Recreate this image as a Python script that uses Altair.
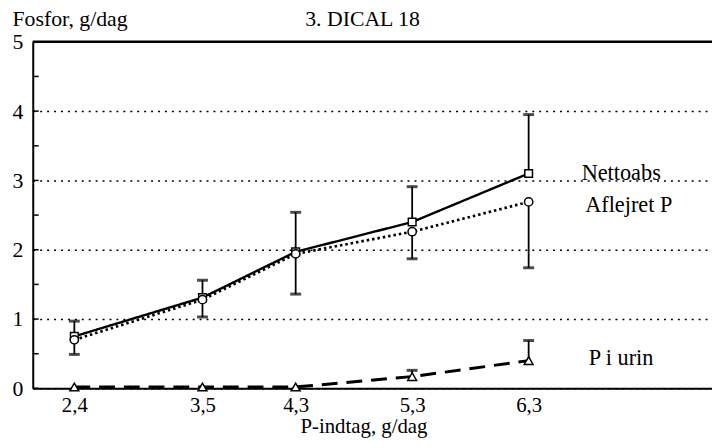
import altair as alt
import pandas as pd

# ---- data ----
x_vals = [2.4, 3.5, 4.3, 5.3, 6.3]
netto = [0.75, 1.31, 1.97, 2.40, 3.10]
aflejret = [0.70, 1.28, 1.94, 2.26, 2.69]
urin = [0.02, 0.02, 0.02, 0.17, 0.40]
netto_upper = [0.97, 1.56, 2.54, 2.91, 3.95]
aflejret_lower = [0.49, 1.03, 1.36, 1.87, 1.74]
urin_upper = [None, None, None, 0.26, 0.69]

series_names = ["Nettoabs", "Aflejret P", "P i urin"]
label_x = [6.755, 6.785, 6.815]
label_y = [3.11, 2.64, 0.43]

chart_title = "3. DICAL 18"
y_labels = [0, 1, 2, 3, 4, 5]
minor_ticks = [0, 0.5, 1, 1.5, 2, 2.5, 3, 3.5, 4, 4.5, 5]

FONT = "Liberation Serif, Times New Roman, serif"

# ---- tables ----
lines = pd.DataFrame(
    [{"series": s, "x": x, "y": v}
     for s, vals in zip(series_names, [netto, aflejret, urin])
     for x, v in zip(x_vals, vals)]
)

err_rows = []
for x, a, b in zip(x_vals, netto, netto_upper):
    err_rows.append({"x": x, "y": a, "y2": b})
for x, a, b in zip(x_vals, aflejret, aflejret_lower):
    err_rows.append({"x": x, "y": a, "y2": b})
for x, a, b in zip(x_vals, urin, urin_upper):
    if b is not None:
        err_rows.append({"x": x, "y": a, "y2": b})
errs = pd.DataFrame(err_rows)

labels = pd.DataFrame({"text": series_names, "x": label_x, "y": label_y})
ticks = pd.DataFrame({"y": minor_ticks})

xscale = alt.Scale(domain=[2.043, 7.874], nice=False, zero=False)
yscale = alt.Scale(domain=[0, 5], nice=False, zero=True)

xaxis = alt.Axis(
    values=x_vals, format=".1f", labelExpr="replace(datum.label, '.', ',')",
    grid=False, ticks=False, domainColor="black", domainWidth=2,
    labelFont=FONT, labelFontSize=21, labelColor="black", labelPadding=6,
    title="P-indtag, g/dag", titleFont=FONT, titleFontSize=21,
    titleFontWeight="normal", titleColor="black",
    titleX=334, titleY=45, titleAlign="center", titleBaseline="alphabetic",
)
yaxis = alt.Axis(
    values=y_labels, format="d",
    grid=True, gridDash=[2, 5], gridColor="black", gridWidth=1.5, gridOpacity=1,
    ticks=False, domainColor="black", domainWidth=2,
    labelFont=FONT, labelFontSize=22, labelColor="black", labelPadding=10,
    title="Fosfor, g/dag", titleFont=FONT, titleFontSize=22,
    titleFontWeight="normal", titleColor="black", titleAngle=0,
    titleX=-21, titleY=-16, titleAlign="left", titleBaseline="alphabetic",
)

X = alt.X("x:Q", scale=xscale, axis=xaxis)
Y = alt.Y("y:Q", scale=yscale, axis=yaxis)

minor = alt.Chart(ticks).mark_rule(color="black", strokeWidth=1.5).encode(
    y=alt.Y("y:Q", scale=yscale, axis=yaxis), x=alt.value(0), x2=alt.value(6)
)

top_line = alt.Chart(pd.DataFrame({"y": [5]})).mark_rule(
    color="black", strokeWidth=2.5
).encode(y=alt.Y("y:Q", scale=yscale, axis=yaxis))

err_rule = alt.Chart(errs).mark_rule(color="black", strokeWidth=1.8).encode(
    x=X, y=Y, y2="y2:Q"
)
caps = alt.Chart(errs).mark_tick(
    color="black", orient="horizontal", size=11, thickness=3
).encode(x=X, y=alt.Y("y2:Q", scale=yscale, axis=yaxis))

series_lines = alt.Chart(lines).mark_line(color="black").encode(
    x=X, y=Y,
    detail="series:N",
    strokeDash=alt.StrokeDash(
        "series:N",
        scale=alt.Scale(domain=series_names, range=[[1, 0], [2.5, 3], [16, 9]]),
        legend=None,
    ),
    strokeWidth=alt.StrokeWidth(
        "series:N",
        scale=alt.Scale(domain=series_names, range=[2.4, 3.0, 2.2]),
        legend=None,
    ),
)

points = alt.Chart(lines).mark_point(
    filled=True, fill="white", stroke="black", strokeWidth=1.5, opacity=1
).encode(
    x=X, y=Y,
    shape=alt.Shape(
        "series:N",
        scale=alt.Scale(domain=series_names, range=["square", "circle", "triangle-up"]),
        legend=None,
    ),
    size=alt.Size(
        "series:N",
        scale=alt.Scale(domain=series_names, range=[60, 80, 90]),
        legend=None,
    ),
)

texts = alt.Chart(labels).mark_text(
    font=FONT, fontSize=22.5, color="black", align="left", baseline="middle"
).encode(x=X, y=Y, text="text:N")

title_text = alt.Chart(pd.DataFrame({"t": [chart_title]})).mark_text(
    font=FONT, fontSize=22, color="black", align="center", baseline="alphabetic"
).encode(text="t:N", x=alt.value(333), y=alt.value(-16))

chart = alt.layer(
    minor, top_line, err_rule, caps, series_lines, points, texts, title_text
).properties(
    width=686,
    height=350,
    autosize=alt.AutoSizeParams(type="none"),
    padding={"left": 25, "top": 32, "right": 0, "bottom": 50},
).configure_view(stroke=None).configure(background="white")

chart.save("out.html", embed_options={"renderer": "svg", "actions": False})
